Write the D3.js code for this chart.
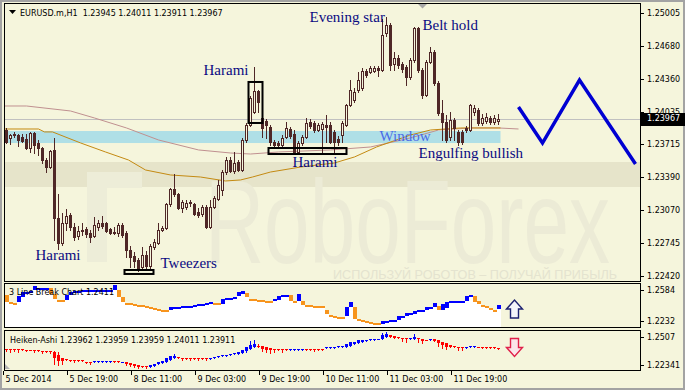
<!DOCTYPE html>
<html>
<head>
<meta charset="utf-8">
<script src="https://cdnjs.cloudflare.com/ajax/libs/d3/7.8.5/d3.min.js"></script>
<style>
body { margin: 0; background: #f5f5dc; }
svg text { font-family: "DejaVu Sans", sans-serif; }
</style>
</head>
<body>
<script>
// EURUSD H1 candles, 5 Dec - 11 Dec 2014
var opens = [1.23855,1.23777,1.23816,1.23806,1.23786,1.23767,1.23678,1.23826,1.23727,1.23678,
1.23560,1.23491,1.23659,1.22990,1.22744,1.22941,1.23020,1.22902,1.22813,1.22862,
1.22882,1.22843,1.22813,1.22902,1.22941,1.22941,1.22882,1.22852,1.22843,1.22921,
1.22843,1.22676,1.22617,1.22577,1.22508,1.22626,1.22518,1.22705,1.22744,1.22872,
1.22892,1.23128,1.23275,1.23226,1.23088,1.23098,1.23138,1.23128,1.23049,1.23029,
1.23098,1.22902,1.23098,1.23177,1.23265,1.23442,1.23560,1.23452,1.23541,1.23462,
1.23757,1.23904,1.24032,1.24239,1.23973,1.23944,1.23885,1.23737,1.23727,1.23708,
1.23786,1.23865,1.23816,1.23639,1.23727,1.23786,1.23934,1.23924,1.23855,1.23865,
1.23904,1.23904,1.23835,1.23767,1.23806,1.23904,1.24101,1.24150,1.24248,1.24268,
1.24435,1.24425,1.24435,1.24465,1.24445,1.24809,1.24887,1.24504,1.24563,1.24504,
1.24474,1.24376,1.24543,1.24858,1.24445,1.24199,1.24524,1.24622,1.24317,1.24022,
1.23934,1.23786,1.23953,1.23835,1.23835,1.23875,1.23855,1.24032,1.24052,1.23924,
1.23944,1.23973,1.23934,1.23945];
var highs = [1.23875,1.23816,1.23835,1.23816,1.23816,1.23816,1.23835,1.23835,1.23757,1.23688,
1.23580,1.23659,1.23777,1.23226,1.23039,1.23079,1.23039,1.22941,1.22911,1.22941,
1.22902,1.22872,1.23000,1.22970,1.23010,1.22951,1.22892,1.22902,1.22941,1.22941,
1.22862,1.22715,1.22656,1.22597,1.22705,1.22666,1.22735,1.22784,1.22941,1.22911,
1.23138,1.23285,1.23423,1.23236,1.23167,1.23167,1.23167,1.23138,1.23088,1.23118,
1.23118,1.23167,1.23206,1.23364,1.23462,1.23590,1.23590,1.23639,1.23560,1.23777,
1.23924,1.24189,1.24474,1.24248,1.24032,1.23963,1.23904,1.23757,1.23747,1.23806,
1.23934,1.23885,1.23855,1.23747,1.23806,1.23973,1.23963,1.23944,1.23924,1.23934,
1.24003,1.23934,1.23855,1.23796,1.23944,1.24111,1.24347,1.24268,1.24425,1.24465,
1.24455,1.24484,1.24484,1.24484,1.24946,1.24966,1.24907,1.24622,1.24592,1.24524,
1.24494,1.24563,1.24868,1.24868,1.24465,1.24543,1.24671,1.24642,1.24337,1.24150,
1.24003,1.24032,1.23973,1.23855,1.23855,1.23894,1.24111,1.24101,1.24071,1.24012,
1.24022,1.23993,1.24003,1.24011];
var lows = [1.23727,1.23718,1.23786,1.23698,1.23737,1.23668,1.23639,1.23629,1.23609,1.23531,
1.23442,1.23482,1.22774,1.22685,1.22725,1.22872,1.22872,1.22774,1.22784,1.22823,
1.22803,1.22754,1.22803,1.22872,1.22892,1.22852,1.22833,1.22833,1.22813,1.22803,
1.22607,1.22508,1.22508,1.22469,1.22479,1.22479,1.22479,1.22686,1.22735,1.22862,
1.22882,1.23108,1.23206,1.23079,1.23049,1.23079,1.23108,1.23020,1.23000,1.23010,
1.22892,1.22892,1.23088,1.23167,1.23216,1.23423,1.23442,1.23432,1.23452,1.23452,
1.23737,1.23894,1.24022,1.24032,1.23786,1.23777,1.23708,1.23688,1.23688,1.23698,
1.23777,1.23777,1.23629,1.23629,1.23708,1.23777,1.23875,1.23835,1.23845,1.23639,
1.23737,1.23727,1.23639,1.23708,1.23737,1.23894,1.24091,1.24130,1.24229,1.24248,
1.24376,1.24415,1.24425,1.24386,1.24435,1.24779,1.24445,1.24445,1.24465,1.24425,
1.24297,1.24356,1.24524,1.24425,1.24170,1.24189,1.24514,1.24297,1.24003,1.23757,
1.23737,1.23757,1.23757,1.23708,1.23718,1.23835,1.23845,1.24003,1.23904,1.23904,
1.23924,1.23914,1.23914,1.23911];
var closes = [1.23737,1.23806,1.23806,1.23757,1.23747,1.23678,1.23826,1.23708,1.23678,1.23560,
1.23491,1.23649,1.22990,1.22744,1.22941,1.23010,1.22902,1.22803,1.22862,1.22872,
1.22833,1.22803,1.22921,1.22941,1.22911,1.22862,1.22843,1.22843,1.22921,1.22823,
1.22676,1.22607,1.22567,1.22479,1.22626,1.22518,1.22715,1.22754,1.22872,1.22892,
1.23128,1.23275,1.23226,1.23088,1.23147,1.23138,1.23147,1.23029,1.23020,1.23098,
1.22902,1.23098,1.23187,1.23314,1.23442,1.23560,1.23452,1.23531,1.23462,1.23757,
1.23904,1.24170,1.24239,1.24130,1.23875,1.23904,1.23737,1.23708,1.23708,1.23777,
1.23875,1.23796,1.23639,1.23727,1.23786,1.23924,1.23894,1.23855,1.23904,1.23914,
1.23885,1.23737,1.23737,1.23737,1.23924,1.24101,1.24248,1.24229,1.24347,1.24435,
1.24396,1.24465,1.24465,1.24445,1.24789,1.24887,1.24494,1.24563,1.24494,1.24455,
1.24376,1.24543,1.24858,1.24445,1.24199,1.24524,1.24622,1.24317,1.24022,1.23934,
1.23757,1.23953,1.23875,1.23737,1.23737,1.23855,1.24101,1.24071,1.23924,1.23973,
1.23983,1.23934,1.23973,1.23967];

// moving averages, read at a few bars
var slowMaBars = [-0.5,5,16,22,30,38,48,56,61,68,81,91,101,108,116,123,128];
var slowMaValues = [1.24091,1.24091,1.24042,1.23973,1.23875,1.23757,1.23659,1.23629,1.23619,1.23639,1.23659,1.23688,1.23777,1.23855,1.23875,1.23875,1.23865];
var fastMaBars = [-0.5,8,9.5,11.5,18.5,24.75,30.5,34.75,41,48.5,54.75,58.5,61.5,66,73.5,82,87,92.5,101,106,113.5,123.5];
var fastMaValues = [1.23865,1.23865,1.23836,1.23836,1.23728,1.23639,1.23560,1.23462,1.23413,1.23393,1.23354,1.23364,1.23393,1.23442,1.23491,1.23531,1.23590,1.23688,1.23806,1.23855,1.23875,1.23875];

// window zone and pattern frames
var windowZone = [1.23727, 1.23845];
var boxFrom = [60.5, 65.5, 29.5];
var boxTo = [64, 85, 36.75];
var boxTop = [1.24327, 1.23678, 1.22479];
var boxBottom = [1.23924, 1.23619, 1.22440];

var noteText = ["Evening star", "Belt hold", "Harami", "Window", "Harami", "Engulfing bullish", "Harami", "Tweezers"];
var noteBar = [75.75, 104, 49.25, 93.25, 71.5, 103, 7.25, 38.5];
var notePrice = [1.24917, 1.24838, 1.24396, 1.23747, 1.23491, 1.23580, 1.22577, 1.22499];

// forecast zigzag
var forecastBars = [128, 134, 143.25, 157.25];
var forecastPrices = [1.24081, 1.23727, 1.24346, 1.23521];

var priceTicks = [1.25005, 1.24680, 1.24360, 1.24035, 1.23715, 1.23390, 1.23070, 1.22745, 1.22420];
var timeBars = [0, 16, 32, 48, 64, 80, 96, 112];
var timeLabels = ["5 Dec 2014", "5 Dec 19:00", "8 Dec 11:00", "9 Dec 03:00", "9 Dec 19:00", "10 Dec 11:00", "11 Dec 03:00", "11 Dec 19:00"];

// 3 line break
var lbHigh = [1.2527,1.2448,1.2436,1.2516,1.2561,1.2561,1.2573,1.2629,1.2607,1.2607,
1.2607,1.2607,1.2539,1.2470,1.2470,1.2527,1.2561,1.2573,1.2573,1.2584,
1.2584,1.2584,1.2584,1.2584,1.2584,1.2584,1.2584,1.2641,1.2584,1.2504,
1.2436,1.2436,1.2425,1.2414,1.2414,1.2402,1.2391,1.2380,1.2368,1.2357,
1.2357,1.2391,1.2391,1.2391,1.2402,1.2402,1.2402,1.2414,1.2425,1.2425,
1.2436,1.2448,1.2436,1.2436,1.2482,1.2493,1.2493,1.2504,1.2561,1.2573,
1.2550,1.2482,1.2482,1.2470,1.2470,1.2459,1.2459,1.2482,1.2516,1.2527,
1.2527,1.2527,1.2459,1.2539,1.2459,1.2414,1.2414,1.2402,1.2402,1.2402,
1.2357,1.2300,1.2289,1.2277,1.2277,1.2391,1.2448,1.2391,1.2254,1.2243,
1.2232,1.2220,1.2209,1.2209,1.2232,1.2232,1.2243,1.2243,1.2289,1.2289,
1.2323,1.2323,1.2345,1.2357,1.2357,1.2391,1.2391,1.2436,1.2402,1.2425,
1.2448,1.2459,1.2459,1.2459,1.2459,1.2516,1.2527,1.2516,1.2459,1.2414,
1.2402,1.2380,1.2357,1.2411];
var lbLow = [1.2448,1.2436,1.2436,1.2448,1.2504,1.2561,1.2573,1.2584,1.2607,1.2607,
1.2607,1.2539,1.2482,1.2470,1.2470,1.2470,1.2527,1.2573,1.2573,1.2584,
1.2584,1.2584,1.2584,1.2584,1.2584,1.2584,1.2584,1.2584,1.2504,1.2448,
1.2436,1.2436,1.2425,1.2414,1.2414,1.2402,1.2391,1.2380,1.2368,1.2357,
1.2357,1.2357,1.2391,1.2391,1.2402,1.2402,1.2402,1.2414,1.2425,1.2425,
1.2436,1.2448,1.2436,1.2414,1.2425,1.2493,1.2493,1.2504,1.2516,1.2539,
1.2504,1.2482,1.2482,1.2470,1.2470,1.2459,1.2459,1.2459,1.2470,1.2527,
1.2527,1.2459,1.2459,1.2459,1.2414,1.2414,1.2414,1.2402,1.2402,1.2402,
1.2311,1.2300,1.2289,1.2277,1.2277,1.2289,1.2391,1.2254,1.2254,1.2243,
1.2232,1.2220,1.2209,1.2209,1.2198,1.2232,1.2220,1.2243,1.2243,1.2289,
1.2289,1.2323,1.2311,1.2345,1.2357,1.2357,1.2391,1.2391,1.2357,1.2357,
1.2380,1.2459,1.2459,1.2459,1.2459,1.2459,1.2504,1.2448,1.2425,1.2414,
1.2402,1.2380,1.2357,1.2368];
var lbDirs = "dddu uuuuuuu dddd uuuuuuuuuuuuu ddddddddddddd uuuuuuuuuuu dd uuuuuu ddddddd uuuu dd u ddddddddddd uu ddddddd uuuuuuuuuuuuuu d uuuuuuuu dddddd u".replace(/ /g, "").split("");

// Heiken-Ashi
var haOpen = [1.2390,1.2390,1.2390,1.2390,1.2390,1.2380,1.2385,1.2380,1.2380,1.2375,1.2371,1.2371,
1.2361,1.2332,1.2302,1.2288,1.2283,1.2283,1.2283,1.2278,1.2263,1.2263,
1.2268,1.2268,1.2268,1.2268,1.2268,1.2273,1.2273,1.2263,
1.2263,1.2254,1.2244,1.2234,1.2224,1.2224,
1.2219,1.2229,1.2239,1.2254,1.2263,1.2283,1.2302,
1.2312,1.2302,1.2302,1.2302,1.2302,1.2302,1.2302,1.2302,
1.2293,1.2302,1.2312,1.2317,1.2322,1.2332,1.2341,1.2346,1.2351,1.2371,
1.2390,1.2410,1.2424,1.2419,1.2405,1.2395,1.2390,1.2390,1.2390,1.2390,
1.2385,1.2385,1.2385,1.2385,1.2390,1.2390,1.2390,1.2390,1.2390,
1.2400,1.2400,1.2400,1.2405,1.2405,1.2410,1.2424,1.2439,1.2449,
1.2463,1.2468,1.2473,1.2478,1.2483,1.2488,1.2507,
1.2522,1.2517,1.2507,1.2502,1.2497,1.2488,1.2492,1.2497,1.2488,1.2478,
1.2478,1.2483,1.2478,1.2463,1.2449,1.2429,1.2419,1.2414,1.2410,
1.2400,1.2405,1.2410,1.2414,1.2405,1.2405,1.2405,1.2405,
1.23962];
var haClose = [1.2380,1.2380,1.2380,1.2380,1.2380,1.2375,1.2380,1.2375,1.2371,1.2371,1.2361,1.2361,
1.2302,1.2273,1.2273,1.2278,1.2273,1.2273,1.2273,1.2273,1.2254,1.2254,
1.2273,1.2273,1.2273,1.2273,1.2273,1.2268,1.2268,1.2268,
1.2244,1.2234,1.2224,1.2215,1.2215,1.2210,
1.2234,1.2244,1.2263,1.2273,1.2302,1.2322,1.2322,
1.2302,1.2293,1.2293,1.2293,1.2293,1.2293,1.2293,1.2293,
1.2302,1.2312,1.2322,1.2327,1.2332,1.2341,1.2351,1.2356,1.2380,1.2410,
1.2429,1.2439,1.2414,1.2390,1.2385,1.2380,1.2380,1.2380,1.2380,1.2380,
1.2390,1.2390,1.2390,1.2390,1.2385,1.2380,1.2380,1.2380,1.2380,
1.2410,1.2410,1.2410,1.2419,1.2419,1.2439,1.2458,1.2458,1.2478,
1.2473,1.2478,1.2483,1.2488,1.2492,1.2527,1.2536,
1.2507,1.2502,1.2497,1.2492,1.2483,1.2497,1.2507,1.2483,1.2468,1.2473,
1.2488,1.2468,1.2449,1.2429,1.2410,1.2410,1.2405,1.2400,1.2395,
1.2410,1.2419,1.2419,1.2405,1.2400,1.2400,1.2400,1.2400,
1.23959];
var haHigh = [1.2390,1.2390,1.2390,1.2390,1.2390,1.2380,1.2385,1.2380,1.2380,1.2375,1.2371,1.2371,
1.2371,1.2361,1.2302,1.2288,1.2283,1.2283,1.2283,1.2278,1.2263,1.2263,
1.2273,1.2273,1.2273,1.2273,1.2273,1.2273,1.2273,1.2268,
1.2263,1.2254,1.2244,1.2234,1.2224,1.2224,
1.2234,1.2244,1.2263,1.2273,1.2302,1.2322,1.2341,
1.2312,1.2302,1.2302,1.2302,1.2302,1.2302,1.2302,1.2302,
1.2302,1.2312,1.2322,1.2327,1.2332,1.2341,1.2351,1.2356,1.2380,1.2410,
1.2468,1.2478,1.2439,1.2419,1.2405,1.2395,1.2390,1.2390,1.2390,1.2390,
1.2390,1.2390,1.2390,1.2390,1.2390,1.2390,1.2390,1.2390,1.2390,
1.2410,1.2410,1.2410,1.2419,1.2419,1.2439,1.2458,1.2458,1.2478,
1.2473,1.2478,1.2483,1.2488,1.2492,1.2546,1.2556,
1.2522,1.2517,1.2507,1.2502,1.2497,1.2497,1.2536,1.2497,1.2488,1.2478,
1.2488,1.2483,1.2478,1.2463,1.2449,1.2429,1.2419,1.2414,1.2410,
1.2410,1.2419,1.2419,1.2414,1.2405,1.2405,1.2405,1.2405,
1.24011];
var haLow = [1.2375,1.2361,1.2375,1.2361,1.2380,1.2375,1.2380,1.2361,1.2371,1.2351,1.2361,1.2351,
1.2244,1.2234,1.2244,1.2278,1.2273,1.2263,1.2273,1.2273,1.2254,1.2244,
1.2268,1.2268,1.2268,1.2268,1.2268,1.2268,1.2268,1.2263,
1.2234,1.2224,1.2215,1.2205,1.2215,1.2205,
1.2219,1.2229,1.2239,1.2254,1.2263,1.2283,1.2302,
1.2302,1.2283,1.2293,1.2283,1.2293,1.2283,1.2293,1.2283,
1.2293,1.2302,1.2312,1.2317,1.2322,1.2332,1.2341,1.2346,1.2351,1.2361,
1.2390,1.2410,1.2414,1.2371,1.2361,1.2351,1.2361,1.2380,1.2361,1.2380,
1.2385,1.2385,1.2385,1.2385,1.2385,1.2380,1.2371,1.2380,1.2380,
1.2400,1.2400,1.2400,1.2405,1.2405,1.2410,1.2424,1.2439,1.2449,
1.2463,1.2468,1.2473,1.2478,1.2483,1.2488,1.2507,
1.2507,1.2502,1.2497,1.2468,1.2458,1.2488,1.2492,1.2458,1.2449,1.2473,
1.2478,1.2468,1.2419,1.2400,1.2390,1.2410,1.2405,1.2380,1.2380,
1.2400,1.2405,1.2410,1.2405,1.2400,1.2400,1.2400,1.2400,
1.23911];

var lbTicks = [1.2584, 1.2232];
var haTicks = [1.2507, 1.22341];
var signalUp = {bar: 127, price: 1.2368};
var signalDown = {bar: 127, price: 1.2405};

var bg = "#f5f5dc",
candleColor = "#4f2727",
axisFont = "8px",
last = closes.length - 1;

var svg = d3.select("body").append("svg")
            .attr("width", 685)
            .attr("height", 390);

svg.append("rect").attr("width", 685).attr("height", 390).attr("fill", bg);
svg.append("rect").attr("x", 1).attr("y", 1).attr("width", 683).attr("height", 388)
  .attr("fill", "none").attr("stroke", "#a3a3a3").attr("stroke-width", 2);

var x = d3.scaleLinear().domain([-0.5, 158.5]).range([4.5, 640.5]);
var yMain = d3.scaleLinear().domain([1.22420, 1.25005]).range([276, 13]);
var yLb = d3.scaleLinear().domain([1.2232, 1.2584]).range([321, 290]);
var yHa = d3.scaleLinear().domain([1.22341, 1.2507]).range([365, 337]);

var px = function(v) { return Math.round(v) + 0.5; };

var defs = svg.append("defs");
defs.append("clipPath").attr("id", "clipMain").append("rect")
  .attr("x", 5).attr("y", 4).attr("width", 635).attr("height", 277);
defs.append("clipPath").attr("id", "clipLb").append("rect")
  .attr("x", 5).attr("y", 284).attr("width", 635).attr("height", 43);
defs.append("clipPath").attr("id", "clipHa").append("rect")
  .attr("x", 5).attr("y", 331).attr("width", 635).attr("height", 39);

var main = svg.append("g").attr("clip-path", "url(#clipMain)");

// watermark
main.append("rect").attr("x", 5).attr("y", 162).attr("width", 635).attr("height", 25).attr("fill", "#e6e4ca");
main.append("rect").attr("x", 87).attr("y", 172).attr("width", 20).attr("height", 90).attr("fill", "#ededd8");
main.append("rect").attr("x", 87).attr("y", 172).attr("width", 55).attr("height", 16).attr("fill", "#ededd8");
main.append("text").text("RoboForex")
  .attr("transform", "translate(205,263) scale(1,1.44)")
  .attr("textLength", 405).attr("lengthAdjust", "spacingAndGlyphs")
  .style("font-family", "'Liberation Sans', sans-serif").style("font-size", "82px")
  .attr("fill", "#ecebd6");
main.append("text").text("ИСПОЛЬЗУЙ РОБОТОВ – ПОЛУЧАЙ ПРИБЫЛЬ")
  .attr("x", 333).attr("y", 279)
  .attr("textLength", 284).attr("lengthAdjust", "spacingAndGlyphs")
  .style("font-family", "'Liberation Sans', sans-serif").style("font-size", "12px")
  .attr("fill", "#e4e3cf");

main.append("rect")
  .attr("x", x(-0.5)).attr("width", x(last + 0.5) - x(-0.5))
  .attr("y", yMain(windowZone[1])).attr("height", yMain(windowZone[0]) - yMain(windowZone[1]))
  .attr("fill", "#afdfe6");

main.append("line")
  .attr("x1", 4).attr("x2", 640)
  .attr("y1", px(yMain(closes[last]))).attr("y2", px(yMain(closes[last])))
  .attr("stroke", "#c0c0c0");

var maLine = d3.line().x(function(d) { return x(d[0]); }).y(function(d) { return yMain(d[1]); });
main.append("path").datum(d3.zip(slowMaBars, slowMaValues))
  .attr("d", maLine).attr("fill", "none").attr("stroke", "#c09090").attr("stroke-width", 1);
main.append("path").datum(d3.zip(fastMaBars, fastMaValues))
  .attr("d", maLine).attr("fill", "none").attr("stroke", "#c48a12").attr("stroke-width", 1);

// candles
var candles = main.selectAll("g.candle")
  .data(d3.range(opens.length))
  .enter().append("g").attr("class", "candle");

candles.append("line")
  .attr("x1", function(i) { return x(i); })
  .attr("x2", function(i) { return x(i); })
  .attr("y1", function(i) { return Math.round(yMain(highs[i])); })
  .attr("y2", function(i) { return Math.round(yMain(lows[i])) + 1; })
  .attr("stroke", candleColor);

candles.append("rect")
  .attr("x", function(i) { return closes[i] >= opens[i] ? x(i) - 1 : x(i) - 1.5; })
  .attr("width", function(i) { return closes[i] >= opens[i] ? 2 : 3; })
  .attr("y", function(i) {
    var top = Math.round(yMain(Math.max(opens[i], closes[i])));
    return closes[i] >= opens[i] ? top + 0.5 : top;
  })
  .attr("height", function(i) {
    var top = Math.round(yMain(Math.max(opens[i], closes[i])));
    var bot = Math.round(yMain(Math.min(opens[i], closes[i])));
    return closes[i] >= opens[i] ? Math.max(bot - top, 1) : Math.max(bot - top + 1, 1);
  })
  .attr("fill", function(i) { return closes[i] >= opens[i] ? bg : candleColor; })
  .attr("stroke", function(i) { return closes[i] >= opens[i] ? candleColor : "none"; });

main.selectAll("rect.box")
  .data(d3.range(boxFrom.length))
  .enter().append("rect").attr("class", "box")
  .attr("x", function(i) { return x(boxFrom[i]); })
  .attr("width", function(i) { return x(boxTo[i]) - x(boxFrom[i]); })
  .attr("y", function(i) { return yMain(boxTop[i]); })
  .attr("height", function(i) { return yMain(boxBottom[i]) - yMain(boxTop[i]); })
  .attr("fill", "none").attr("stroke", "#000").attr("stroke-width", 2);

main.selectAll("text.note")
  .data(d3.range(noteText.length))
  .enter().append("text").attr("class", "note")
  .text(function(i) { return noteText[i]; })
  .attr("x", function(i) { return x(noteBar[i]); })
  .attr("y", function(i) { return yMain(notePrice[i]); })
  .style("font-family", "'Liberation Serif', serif").style("font-size", "15px")
  .attr("fill", function(i) { return noteText[i] == "Window" ? "#4a6be6" : "#0a0a82"; });

main.append("path")
  .datum(d3.zip(forecastBars, forecastPrices))
  .attr("d", maLine)
  .attr("fill", "none").attr("stroke", "#0000d2").attr("stroke-width", 3.5);

// chart shift marker
svg.append("path").attr("d", "M418,4L427,4L422.5,8.5Z").attr("fill", "#a8a8a8");

svg.append("rect").attr("x", 4.5).attr("y", 3.5).attr("width", 636).attr("height", 278)
  .attr("fill", "none").attr("stroke", "#000");

// price scale
svg.selectAll("line.ptick").data(priceTicks).enter().append("line").attr("class", "ptick")
  .attr("x1", 640).attr("x2", 644)
  .attr("y1", function(d) { return px(yMain(d)); }).attr("y2", function(d) { return px(yMain(d)); })
  .attr("stroke", "#000");
svg.selectAll("text.ptick").data(priceTicks).enter().append("text").attr("class", "ptick")
  .text(function(d) { return d.toFixed(5); })
  .attr("x", 647).attr("y", function(d) { return yMain(d); }).attr("dy", "0.36em")
  .style("font-size", axisFont).attr("fill", "#000");

svg.append("rect").attr("x", 641).attr("y", Math.round(yMain(closes[last])) - 6)
  .attr("width", 44).attr("height", 13).attr("fill", "#000");
svg.append("text").text(closes[last].toFixed(5))
  .attr("x", 647).attr("y", yMain(closes[last])).attr("dy", "0.36em")
  .style("font-size", axisFont).attr("fill", "#fff");

// header
svg.append("path").attr("d", "M9,10L16,10L12.5,14Z").attr("fill", "#000");
svg.append("text")
  .text("EURUSD.m,H1  " + [opens[last], highs[last], lows[last], closes[last]].map(function(v) { return v.toFixed(5); }).join(" "))
  .attr("x", 20).attr("y", 16).style("white-space", "pre")
  .style("font-size", axisFont).attr("fill", "#000");

// 3 line break panel
var lb = svg.append("g").attr("clip-path", "url(#clipLb)");
var lbBars = lb.selectAll("g").data(d3.range(lbHigh.length)).enter().append("g");
lbBars.append("rect")
  .attr("x", function(i) { return Math.floor(x(i)) - 1; }).attr("width", 4)
  .attr("y", function(i) { return Math.round(yLb(lbLow[i])); })
  .attr("height", function(i) { return 327 - Math.round(yLb(lbLow[i])); })
  .attr("fill", "#fff");
lbBars.append("rect")
  .attr("x", function(i) { return Math.floor(x(i)) - 1; }).attr("width", 4)
  .attr("y", function(i) { return Math.round(yLb(lbHigh[i])); })
  .attr("height", function(i) { return Math.max(Math.round(yLb(lbLow[i])) - Math.round(yLb(lbHigh[i])), 2); })
  .attr("fill", function(i) { return lbDirs[i] == "u" ? "#0000ff" : "#f7941d"; });

svg.append("text").text("3 Line Break Chart " + lbHigh[last].toFixed(4))
  .attr("x", 9).attr("y", 295).style("font-size", axisFont).attr("fill", "#000");

var arrowUp = "M-8,0L0,-9L8,0L4,0L4,9L-4,9L-4,0Z";
svg.append("path").attr("d", arrowUp)
  .attr("transform", "translate(" + x(signalUp.bar) + "," + yLb(signalUp.price) + ")")
  .attr("fill", "#f4f4fa").attr("stroke", "#1c2070").attr("stroke-width", 1.4);

svg.append("rect").attr("x", 4.5).attr("y", 283.5).attr("width", 636).attr("height", 44)
  .attr("fill", "none").attr("stroke", "#000");

// heiken-ashi panel
var ha = svg.append("g").attr("clip-path", "url(#clipHa)");
var haBars = ha.selectAll("g").data(d3.range(haOpen.length)).enter().append("g");
var haColor = function(i) { return haClose[i] >= haOpen[i] ? "#0000ff" : "#ff0000"; };
haBars.append("line")
  .attr("x1", function(i) { return x(i); }).attr("x2", function(i) { return x(i); })
  .attr("y1", function(i) { return Math.round(yHa(haHigh[i])); })
  .attr("y2", function(i) { return Math.round(yHa(haLow[i])) + 1; })
  .attr("stroke", haColor);
haBars.append("rect")
  .attr("x", function(i) { return Math.floor(x(i)) - 1; }).attr("width", 3)
  .attr("y", function(i) { return Math.round(yHa(Math.max(haOpen[i], haClose[i]))); })
  .attr("height", function(i) {
    return Math.max(Math.round(yHa(Math.min(haOpen[i], haClose[i]))) - Math.round(yHa(Math.max(haOpen[i], haClose[i]))), 1);
  })
  .attr("fill", haColor);

svg.append("text")
  .text("Heiken-Ashi " + [haOpen[last], haClose[last], haClose[last], haHigh[last], haLow[last]].map(function(v) { return v.toFixed(5); }).join(" "))
  .attr("x", 10).attr("y", 343).style("font-size", axisFont).attr("fill", "#000");

var arrowDown = "M-8,0L0,9L8,0L4,0L4,-9L-4,-9L-4,0Z";
svg.append("path").attr("d", arrowDown)
  .attr("transform", "translate(" + x(signalDown.bar) + "," + yHa(signalDown.price) + ")")
  .attr("fill", "#fbe6ea").attr("stroke", "#e0204a").attr("stroke-width", 1.4);

svg.append("path").attr("d", "M5,364L5,369L10,369Z").attr("fill", "#b4b4b4");
svg.append("rect").attr("x", 4.5).attr("y", 330.5).attr("width", 636).attr("height", 40)
  .attr("fill", "none").attr("stroke", "#000");

// sub panel scales
var subTicks = [[yLb, lbTicks, 4], [yHa, haTicks, 5]];
subTicks.forEach(function(s) {
  s[1].forEach(function(v, k) {
    var yy = s[0](v);
    svg.append("line").attr("x1", 640).attr("x2", 644).attr("y1", px(yy)).attr("y2", px(yy)).attr("stroke", "#000");
    svg.append("text").text(v.toFixed(k == 0 ? 4 : s[2]))
      .attr("x", 647).attr("y", yy).attr("dy", "0.36em")
      .style("font-size", axisFont).attr("fill", "#000");
  });
});

// time axis
svg.selectAll("line.ttick").data(timeBars).enter().append("line").attr("class", "ttick")
  .attr("x1", function(d) { return Math.floor(x(d)) - 2.5; }).attr("x2", function(d) { return Math.floor(x(d)) - 2.5; })
  .attr("y1", 371).attr("y2", 375).attr("stroke", "#000");
svg.selectAll("text.ttick").data(timeBars).enter().append("text").attr("class", "ttick")
  .text(function(d, i) { return timeLabels[i]; })
  .attr("x", function(d) { return x(d) - 1; }).attr("y", 382)
  .style("font-size", axisFont).attr("fill", "#000");
</script>
</body>
</html>
